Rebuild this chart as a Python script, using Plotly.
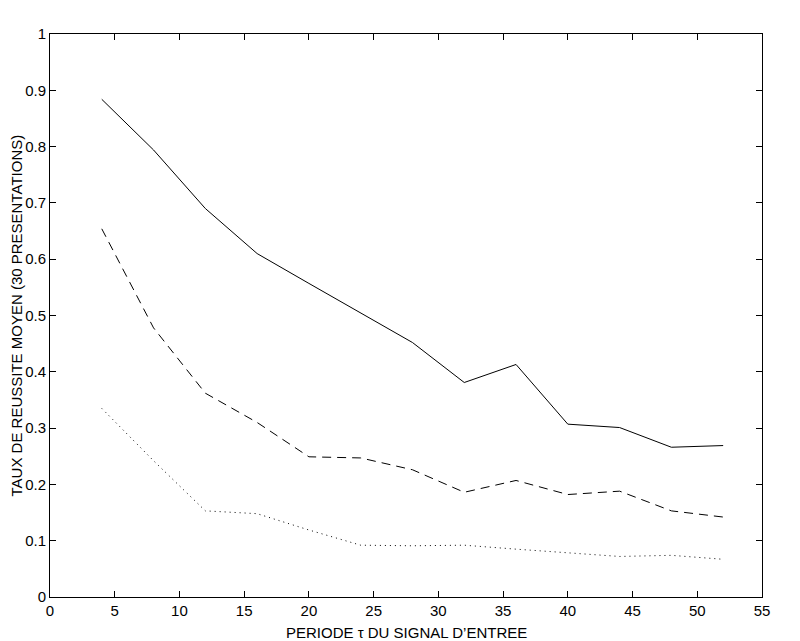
import plotly.graph_objects as go

# period tau of the input signal
periode = [4, 8, 12, 16, 20, 24, 28, 32, 36, 40, 44, 48, 52]

# mean success rate over 30 presentations, three series
taux_plein = [0.884, 0.794, 0.690, 0.610, 0.557, 0.505, 0.452, 0.381, 0.413, 0.307, 0.301, 0.266, 0.269]
taux_tirets = [0.654, 0.478, 0.362, 0.310, 0.249, 0.247, 0.226, 0.186, 0.207, 0.182, 0.188, 0.153, 0.142]
taux_points = [0.335, 0.242, 0.153, 0.148, 0.119, 0.092, 0.091, 0.092, 0.085, 0.078, 0.072, 0.074, 0.067]

x_ticks = [0, 5, 10, 15, 20, 25, 30, 35, 40, 45, 50, 55]
y_ticks = [0, 0.1, 0.2, 0.3, 0.4, 0.5, 0.6, 0.7, 0.8, 0.9, 1]
y_labels = ["0", "0.1", "0.2", "0.3", "0.4", "0.5", "0.6", "0.7", "0.8", "0.9", "1"]

police = "Liberation Sans, Arial, sans-serif"

fig = go.Figure()
for serie, dash in [(taux_plein, "solid"), (taux_tirets, "9px,6px"), (taux_points, "1px,4px")]:
    fig.add_trace(go.Scatter(x=periode, y=serie, mode="lines",
                             line=dict(color="black", width=1, dash=dash),
                             showlegend=False))

axis_style = dict(showgrid=False, zeroline=False, showline=True, linecolor="black",
                  linewidth=1, mirror="ticks", ticks="inside", ticklen=6,
                  tickcolor="black", tickwidth=1,
                  tickfont=dict(family=police, size=15, color="black"))

fig.update_xaxes(range=[0, 55], tickvals=x_ticks, **axis_style)
fig.update_yaxes(range=[0, 1], tickvals=y_ticks, ticktext=y_labels, **axis_style)

fig.add_annotation(text="PERIODE \u03c4 DU SIGNAL D\u2019ENTREE", xref="paper", yref="paper",
                   x=0.5, y=0, yshift=-35, xanchor="center", yanchor="middle", showarrow=False,
                   font=dict(family=police, size=15, color="black"))
fig.add_annotation(text="TAUX DE REUSSITE MOYEN (30 PRESENTATIONS)", xref="paper", yref="paper",
                   x=0, y=0.5, xshift=-34, xanchor="center", yanchor="middle", textangle=-90,
                   showarrow=False,
                   font=dict(family=police, size=15, color="black"))

# page body has an 8px margin, so the figure is a bit smaller than the window
fig.update_layout(width=792, height=633, margin=dict(l=42, r=38, t=26, b=44),
                  plot_bgcolor="white", paper_bgcolor="white")

fig.write_html("out.html")
